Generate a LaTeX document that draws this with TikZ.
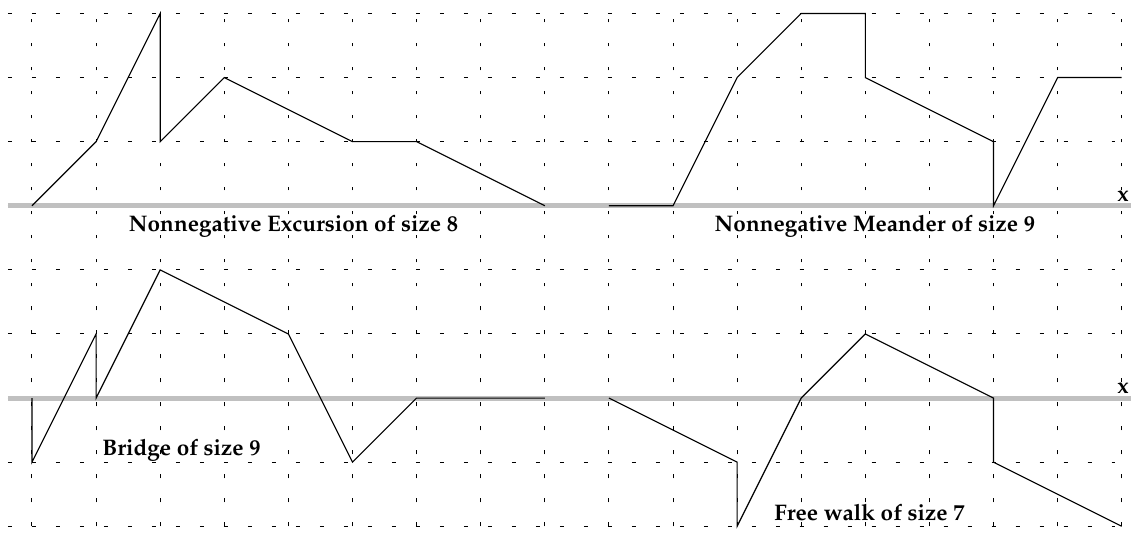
\documentclass[tikz,border=0pt]{standalone}
\usepackage[T1]{fontenc}
\renewcommand{\rmdefault}{ppl}
\definecolor{axisgray}{RGB}{192,192,192}
\begin{document}
\begin{tikzpicture}[x=1cm,y=1cm,
  gridline/.style={line width=0.45pt, dash pattern=on 1.7pt off 8.95pt},
  axisline/.style={line width=2.2pt, color=axisgray},
  walk/.style={line width=0.5pt, line join=miter},
  lbl/.style={font=\fontsize{10}{12}\selectfont\bfseries, inner sep=0pt, anchor=base}]
\useasboundingbox (-0.499,-0.195) rectangle (17.145,8.21);
% dotted grid
\draw[gridline] (-0.375,0) grid (17.145,8);
% axes
\draw[axisline] (-0.375,5) -- (17.145,5);
\draw[axisline] (-0.375,2) -- (17.145,2);
% Nonnegative excursion
\draw[walk] (0,5) -- (1,6) -- (2,8) -- (2,6) -- (3,7) -- (5,6) -- (6,6) -- (8,5);
% Nonnegative meander
\draw[walk] (9,5) -- (10,5) -- (11,7) -- (12,8) -- (13,8) -- (13,7) -- (15,6) -- (15,5) -- (16,7) -- (17,7);
% Bridge
\draw[walk] (0,2) -- (0,1) -- (1,3) -- (1,2) -- (2,4) -- (4,3) -- (5,1) -- (6,2) -- (8,2);
% Free walk
\draw[walk] (9,2) -- (11,1) -- (11,0) -- (12,2) -- (13,3) -- (15,2) -- (15,1) -- (17,0);
% labels
\node[lbl] (exc) at (4.08,4.595) {Nonnegative Excursion of size 8};
\node[lbl] (mea) at (13.15,4.595) {Nonnegative Meander of size 9};
\node[lbl] (bri) at (2.332,1.10) {Bridge of size 9};
\node[lbl] (fre) at (13.065,0.086) {Free walk of size 7};
\node[lbl] (xtop) at (17.02,5.07) {x};
\node[lbl] (xbot) at (17.02,2.07) {x};
\end{tikzpicture}
\end{document}
